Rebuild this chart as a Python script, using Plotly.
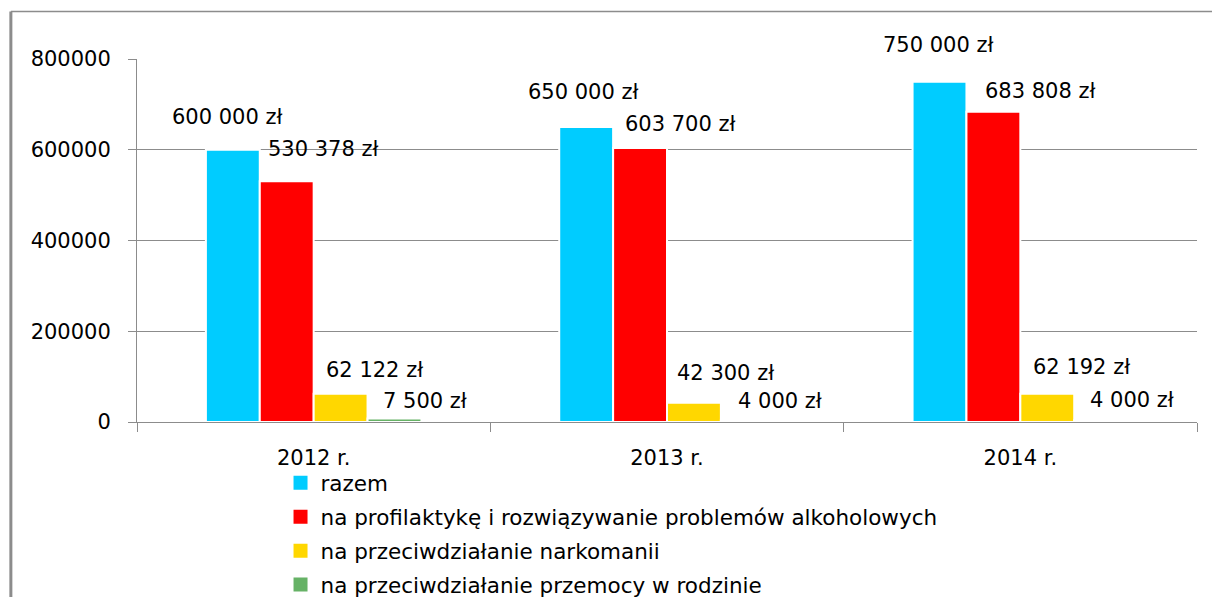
"""Wydatki gminy na profilaktykę 2012-2014 - grouped bar chart."""

import plotly.graph_objects as go

years = ["2012 r.", "2013 r.", "2014 r."]
series_names = [
    "razem",
    "na profilaktykę i rozwiązywanie problemów alkoholowych",
    "na przeciwdziałanie narkomanii",
    "na przeciwdziałanie przemocy w rodzinie",
]
razem = [600000, 650000, 750000]
alkohol = [530378, 603700, 683808]
narkomania = [62122, 42300, 62192]
przemoc = [7500, 4000, 4000]
y_ticks = [0, 200000, 400000, 600000, 800000]

colors = ["#00CCFF", "#FF0000", "#FFD700", "#66B266"]

# label offsets (px) from bar centre / bar top, per series and year
label_dx = [[-6, -3, -1], [37, 40, 47], [34, 32, 34], [31, 32, 31]]
label_dy = [[33, 35, 37], [32, 24, 21], [24, 30, 27], [18, 19, 20]]

FONT = "DejaVu Sans"
BAR_PX = 53.7  # width of one bar slot in px

values = [razem, alkohol, narkomania, przemoc]


def fmt(v):
    return f"{v:,}".replace(",", " ") + " zł"


fig = go.Figure()
for i, (name, vals) in enumerate(zip(series_names, values)):
    fig.add_trace(
        go.Bar(
            name=name,
            x=years,
            y=vals,
            marker=dict(color=colors[i], line=dict(color="white", width=2)),
            showlegend=False,
            hoverinfo="skip",
        )
    )

# legend entries with bigger square swatches
for i, name in enumerate(series_names):
    fig.add_trace(
        go.Scatter(
            name=name,
            x=[None],
            y=[None],
            mode="markers",
            marker=dict(symbol="square", size=14, color=colors[i]),
            legendgroup=f"g{i}",
            hoverinfo="skip",
        )
    )

annotations = []
for i, vals in enumerate(values):
    for j, v in enumerate(vals):
        annotations.append(
            dict(
                x=years[j],
                y=v,
                xref="x",
                yref="y",
                text=fmt(v),
                showarrow=False,
                xshift=(i - 1.5) * BAR_PX + label_dx[i][j],
                yshift=label_dy[i][j],
                font=dict(family=FONT, size=21, color="#000000"),
            )
        )

fig.update_layout(
    width=1212,
    height=597,
    paper_bgcolor="white",
    plot_bgcolor="white",
    barmode="group",
    bargap=0.39,
    bargroupgap=0,
    margin=dict(l=137, r=15, t=59, b=175, autoexpand=False),
    font=dict(family=FONT, size=21, color="#000000"),
    annotations=annotations,
    showlegend=True,
    legend=dict(
        x=0.1354,
        y=-0.111,
        xanchor="left",
        yanchor="top",
        orientation="v",
        traceorder="grouped",
        tracegroupgap=3,
        itemwidth=30,
        font=dict(family=FONT, size=21.5, color="#000000"),
        bgcolor="rgba(0,0,0,0)",
    ),
    shapes=[
        dict(type="line", xref="paper", yref="paper", x0=-0.119, x1=1.05,
             y0=1.131, y1=1.131, line=dict(color="#8c8c8c", width=1.5)),
        dict(type="line", xref="paper", yref="paper", x0=-0.119, x1=-0.119,
             y0=1.131, y1=-0.6, line=dict(color="#8c8c8c", width=3)),
    ],
)

fig.update_xaxes(
    type="category",
    showline=True,
    linecolor="#8c8c8c",
    linewidth=1,
    ticks="outside",
    tickson="boundaries",
    ticklen=9,
    tickcolor="#8c8c8c",
    showgrid=False,
    ticklabelstandoff=17,
    tickfont=dict(family=FONT, size=21),
)

fig.update_yaxes(
    range=[0, 800000],
    tickvals=y_ticks,
    ticktext=[str(t) for t in y_ticks],
    showline=True,
    linecolor="#8c8c8c",
    linewidth=1,
    ticks="outside",
    ticklen=8,
    tickcolor="#8c8c8c",
    showgrid=True,
    gridcolor="#8c8c8c",
    gridwidth=1,
    zeroline=False,
    ticklabelstandoff=13,
    tickfont=dict(family=FONT, size=21),
)

fig.write_html(
    "out.html",
    config={"displayModeBar": False},
    post_script="document.body.style.margin='0';",
)
